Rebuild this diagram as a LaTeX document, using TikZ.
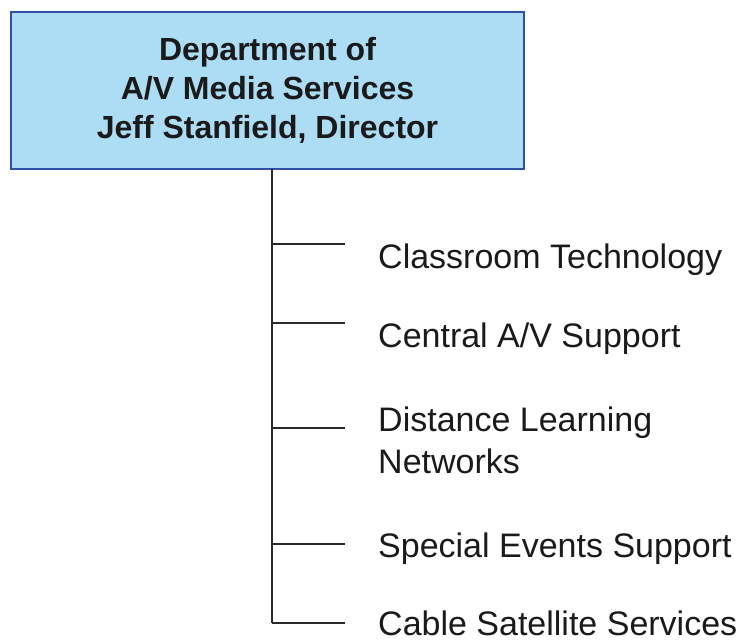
\documentclass[tikz,border=0pt]{standalone}
\usepackage{fontspec}
\setmainfont{Liberation Sans}
\definecolor{boxfill}{HTML}{ACDDF5}
\definecolor{boxline}{HTML}{2F4FA8}
\definecolor{ink}{HTML}{1A1A1A}
\definecolor{wire}{HTML}{2A2A2A}
\begin{document}
\begin{tikzpicture}[x=1pt,y=-1pt,
  deptbox/.style={draw=boxline, line width=2pt, fill=boxfill, minimum width=513pt,
    minimum height=157pt, inner sep=0pt, align=center, text=ink,
    font=\fontsize{32}{39}\selectfont\bfseries},
  unit/.style={anchor=base west, inner sep=0pt, text=ink,
    font=\fontsize{34}{42}\selectfont},
  wirestyle/.style={draw=wire, line width=1.8pt}]
\useasboundingbox (0,0) rectangle (738,643);
\node[deptbox] (dept) at (267.5,90.5) {Department of\\A/V Media Services\\Jeff Stanfield, Director};
% spine
\coordinate (top) at (272,169);
\coordinate (bot) at (272,623);
% branch points and ends
\coordinate (j1) at (272,244); \coordinate (e1) at (345,244);
\coordinate (j2) at (272,323); \coordinate (e2) at (345,323);
\coordinate (j3) at (272,428); \coordinate (e3) at (345,428);
\coordinate (j4) at (272,544); \coordinate (e4) at (345,544);
\coordinate (j5) at (272,623); \coordinate (e5) at (345,623);
% units
\node[unit] (u1) at (378,268) {Classroom Technology};
\node[unit] (u2) at (378,347) {Central A/V Support};
\node[unit] (u3) at (378,431) {\begin{tabular}[t]{@{}l@{}}Distance Learning\\Networks\end{tabular}};
\node[unit] (u4) at (378,557) {Special Events Support};
\node[unit] (u5) at (378,635) {Cable Satellite Services};
% connectors
\draw[wirestyle] (top) -- (bot);
\draw[wirestyle] (j1) -- (e1);
\draw[wirestyle] (j2) -- (e2);
\draw[wirestyle] (j3) -- (e3);
\draw[wirestyle] (j4) -- (e4);
\draw[wirestyle] (j5) -- (e5);
\end{tikzpicture}
\end{document}
